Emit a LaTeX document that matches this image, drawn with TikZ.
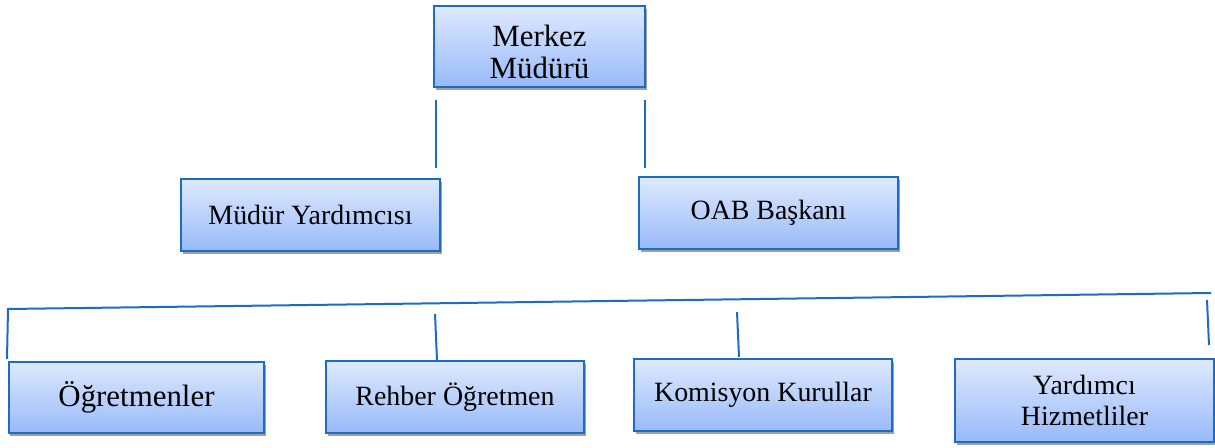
\documentclass[tikz,border=0pt]{standalone}
\usepackage{fontspec}
\setmainfont{Liberation Serif}
\usetikzlibrary{shadows}
\definecolor{bordblue}{RGB}{28,108,192}
\definecolor{topblue}{RGB}{222,233,253}
\definecolor{botblue}{RGB}{152,186,249}
\definecolor{shadgray}{RGB}{160,160,160}
\tikzset{
  orgbox/.style={draw=bordblue, line width=2.2bp, top color=topblue, bottom color=botblue,
    inner sep=0pt, align=center, text=black,
    drop shadow={shadow xshift=1.5bp, shadow yshift=-3.5bp, fill=shadgray, opacity=1}},
  conn/.style={draw=bordblue, line width=2bp},
  big/.style={font=\fontsize{31}{32}\selectfont},
  mid/.style={font=\fontsize{28}{31}\selectfont},
}
\begin{document}
\begin{tikzpicture}[x=1bp,y=-1bp]
\useasboundingbox (0,0) rectangle (1215,448);
% boxes
\node[orgbox, big, minimum width=211bp, minimum height=81bp, text height=50bp, text depth=18.3bp] (merkez) at (539.5,46.5) {\begin{tabular}{@{}c@{}}Merkez\\Müdürü\end{tabular}};
\node[orgbox, mid, minimum width=259bp, minimum height=72bp] (myard) at (310.5,215) {Müdür Yardımcısı};
\node[orgbox, mid, minimum width=259bp, minimum height=72bp] (oab) at (768.5,213) {OAB Başkanı};
\node[orgbox, big, minimum width=255bp, minimum height=71bp] (ogret) at (136.5,397.5) {Öğretmenler};
\node[orgbox, mid, minimum width=258bp, minimum height=72bp] (rehber) at (455,397) {Rehber Öğretmen};
\node[orgbox, mid, minimum width=258bp, minimum height=72bp] (komis) at (763,395) {Komisyon Kurullar};
\node[orgbox, mid, minimum width=259bp, minimum height=83bp] (yardh) at (1084.5,400.5) {Yardımcı\\Hizmetliler};
% connector end points
\coordinate (t1a) at (436,100); \coordinate (t1b) at (436,168);
\coordinate (t2a) at (645,100); \coordinate (t2b) at (645,168);
\coordinate (hl) at (8,309); \coordinate (hr) at (1211,293);
\coordinate (v1) at (7,359);
\coordinate (v2a) at (435,314); \coordinate (v2b) at (437,360);
\coordinate (v3a) at (737,312); \coordinate (v3b) at (739,357);
\coordinate (v4a) at (1207,300); \coordinate (v4b) at (1209,345);
% connectors
\draw[conn] (t1a) -- (t1b);
\draw[conn] (t2a) -- (t2b);
\draw[conn] (v1) -- (hl) -- (hr);
\draw[conn] (v2a) -- (v2b);
\draw[conn] (v3a) -- (v3b);
\draw[conn] (v4a) -- (v4b);
\end{tikzpicture}
\end{document}
